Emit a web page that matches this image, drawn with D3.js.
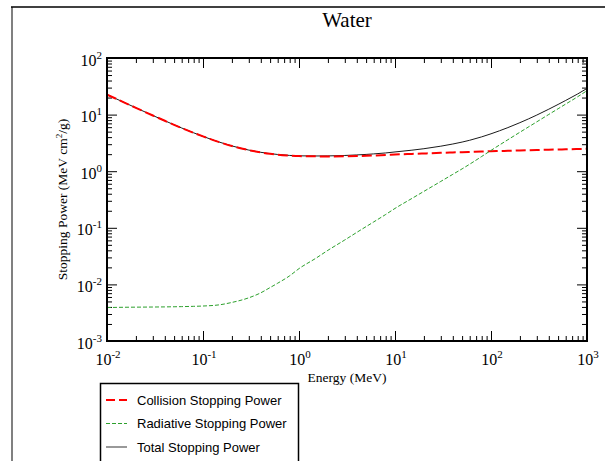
<!DOCTYPE html>
<html>
<head>
<meta charset="utf-8">
<script src="https://cdn.jsdelivr.net/npm/d3@7/dist/d3.min.js"></script>
<style>
  html, body { margin: 0; padding: 0; background: #fff; }
  svg { display: block; }
</style>
</head>
<body>
<svg id="chart" width="605" height="461"></svg>
<script>
// Electron stopping power in liquid water (MeV cm^2/g) versus kinetic energy (MeV)
const energy = [0.01, 0.015, 0.02, 0.03, 0.04, 0.05, 0.06, 0.08, 0.1, 0.15, 0.2, 0.3, 0.4, 0.5, 0.6, 0.8,
  1, 1.5, 2, 3, 4, 5, 6, 8, 10, 15, 20, 30, 40, 50, 60, 80, 100, 150, 200, 300, 400, 500, 600, 800, 1000];
const collision = [22.56, 16.47, 13.17, 9.653, 7.777, 6.603, 5.797, 4.757, 4.115, 3.238, 2.793, 2.355, 2.148, 2.034, 1.963, 1.886,
  1.849, 1.829, 1.822, 1.835, 1.855, 1.875, 1.895, 1.930, 1.968, 2.021, 2.057, 2.108, 2.143, 2.170, 2.191, 2.224, 2.249, 2.293, 2.323, 2.365, 2.395, 2.418, 2.437, 2.467, 2.489];
const radiative = [0.003898, 0.003944, 0.003963, 0.003984, 0.004005, 0.004026, 0.004049, 0.004097, 0.00415, 0.00437, 0.0048, 0.0058, 0.0071, 0.0088, 0.0105, 0.0142,
  0.0190, 0.0290, 0.0400, 0.061, 0.083, 0.105, 0.127, 0.172, 0.220, 0.330, 0.44, 0.66, 0.88, 1.10, 1.33, 1.82, 2.33, 3.60, 4.88, 7.45, 10.07, 12.7, 15.35, 20.7, 26.5];
const total = [22.56, 16.47, 13.17, 9.657, 7.781, 6.607, 5.801, 4.761, 4.119, 3.242, 2.798, 2.361, 2.155, 2.043, 1.974, 1.900,
  1.868, 1.858, 1.862, 1.896, 1.938, 1.980, 2.022, 2.102, 2.188, 2.351, 2.497, 2.768, 3.023, 3.270, 3.521, 4.044, 4.579, 5.893, 7.203, 9.815, 12.47, 15.12, 17.79, 23.17, 28.99];

const xTickExps = [-2, -1, 0, 1, 2, 3];
const yTickExps = [-3, -2, -1, 0, 1, 2];
const seriesNames = ["Collision Stopping Power", "Radiative Stopping Power", "Total Stopping Power"];

const svg = d3.select("#chart");
const plot = { left: 107, right: 587, top: 58, bottom: 341 };

const x = d3.scaleLog().domain([1e-2, 1e3]).range([plot.left, plot.right]);
const y = d3.scaleLog().domain([1e-3, 1e2]).range([plot.bottom, plot.top]);

// Page frame
svg.append("line").attr("x1", 12).attr("x2", 12).attr("y1", 7).attr("y2", 461)
  .attr("stroke", "#808080").attr("stroke-width", 2);
svg.append("line").attr("x1", 11).attr("x2", 605).attr("y1", 7).attr("y2", 7)
  .attr("stroke", "#000").attr("stroke-width", 1.5);

// Title
svg.append("text").attr("x", 347).attr("y", 27).attr("text-anchor", "middle")
  .attr("font-family", "Liberation Serif, Times New Roman, serif").attr("font-size", 21)
  .text("Water");

// Minor tick positions (2..9 x 10^n) inside each domain
function minorTicks(lo, hi) {
  const out = [];
  for (let e = lo; e < hi; e++) for (let m = 2; m <= 9; m++) out.push(m * Math.pow(10, e));
  return out;
}
const xMajor = xTickExps.map(e => Math.pow(10, e));
const yMajor = yTickExps.map(e => Math.pow(10, e));
const xMinor = minorTicks(-2, 3);
const yMinor = minorTicks(-3, 2);

function tickAxis(axisFn, scale, values, size, transform) {
  const g = svg.append("g").attr("transform", transform)
    .call(axisFn(scale).tickValues(values).tickSize(size).tickSizeOuter(0).tickFormat(""));
  g.select(".domain").remove();
  g.selectAll(".tick line").attr("stroke", "#000").attr("stroke-width", 1);
  return g;
}
// Inward ticks on all four sides
tickAxis(d3.axisBottom, x, xMajor, -10, `translate(0,${plot.bottom})`);
tickAxis(d3.axisBottom, x, xMinor, -5, `translate(0,${plot.bottom})`);
tickAxis(d3.axisTop, x, xMajor, -10, `translate(0,${plot.top})`);
tickAxis(d3.axisTop, x, xMinor, -5, `translate(0,${plot.top})`);
tickAxis(d3.axisLeft, y, yMajor, -10, `translate(${plot.left},0)`);
tickAxis(d3.axisLeft, y, yMinor, -5, `translate(${plot.left},0)`);
tickAxis(d3.axisRight, y, yMajor, -10, `translate(${plot.right},0)`);
tickAxis(d3.axisRight, y, yMinor, -5, `translate(${plot.right},0)`);

// Power-of-ten tick labels
const serif = "Liberation Serif, Times New Roman, serif";
function powLabel(sel, exp) {
  sel.append("tspan").text("10");
  sel.append("tspan").attr("font-size", 11).attr("dy", -7).text(String(exp));
}
svg.append("g").selectAll("text").data(xTickExps).join("text")
  .attr("x", d => x(Math.pow(10, d)) + 1).attr("y", 365)
  .attr("text-anchor", "middle").attr("font-family", serif).attr("font-size", 16)
  .each(function (d) { powLabel(d3.select(this), d); });
svg.append("g").selectAll("text").data(yTickExps).join("text")
  .attr("x", plot.left - 5).attr("y", d => y(Math.pow(10, d)) + 7.5)
  .attr("text-anchor", "end").attr("font-family", serif).attr("font-size", 16)
  .each(function (d) { powLabel(d3.select(this), d); });

// Axis titles
svg.append("text").attr("x", 347).attr("y", 382).attr("text-anchor", "middle")
  .attr("font-family", serif).attr("font-size", 13.5).text("Energy (MeV)");
const yTitle = svg.append("text")
  .attr("transform", `translate(67,${(plot.top + plot.bottom) / 2}) rotate(-90)`)
  .attr("text-anchor", "middle").attr("font-family", serif).attr("font-size", 13.5);
yTitle.append("tspan").text("Stopping Power (MeV cm");
yTitle.append("tspan").attr("font-size", 9).attr("dy", -5).text("2");
yTitle.append("tspan").attr("dy", 5).text("/g)");

// Curves
const line = d3.line().x(d => x(d[0])).y(d => y(d[1])).curve(d3.curveMonotoneX);
const styles = [
  { values: total, stroke: "#1a1a1a", width: 1, dash: null },
  { values: collision, stroke: "#ff0000", width: 2, dash: "10,4" },
  { values: radiative, stroke: "#2ca02c", width: 1, dash: "4,2" }
];
svg.append("clipPath").attr("id", "plotclip").append("rect")
  .attr("x", plot.left).attr("y", plot.top)
  .attr("width", plot.right - plot.left).attr("height", plot.bottom - plot.top);
const curves = svg.append("g").attr("clip-path", "url(#plotclip)");
styles.forEach(s => {
  curves.append("path").datum(energy.map((e, i) => [e, s.values[i]]))
    .attr("d", line).attr("fill", "none").attr("stroke", s.stroke)
    .attr("stroke-width", s.width).attr("stroke-dasharray", s.dash);
});

// Plot frame
svg.append("rect").attr("x", plot.left).attr("y", plot.top)
  .attr("width", plot.right - plot.left).attr("height", plot.bottom - plot.top)
  .attr("fill", "none").attr("stroke", "#000").attr("stroke-width", 2);

// Legend
const legend = svg.append("g");
legend.append("rect").attr("x", 100.5).attr("y", 383.5).attr("width", 198).attr("height", 90)
  .attr("fill", "#fff").attr("stroke", "#000").attr("stroke-width", 1.5);
const legendStyles = [
  { stroke: "#ff0000", width: 2, dash: "9,4" },
  { stroke: "#2ca02c", width: 1, dash: "4,2" },
  { stroke: "#555", width: 1.2, dash: null }
];
seriesNames.forEach((name, i) => {
  const cy = 400 + i * 23.5;
  legend.append("line").attr("x1", 106).attr("x2", 127).attr("y1", cy).attr("y2", cy)
    .attr("stroke", legendStyles[i].stroke).attr("stroke-width", legendStyles[i].width)
    .attr("stroke-dasharray", legendStyles[i].dash);
  legend.append("text").attr("x", 137).attr("y", cy + 4.5)
    .attr("font-family", "Liberation Sans, Arial, Helvetica, sans-serif").attr("font-size", 13)
    .text(name);
});
</script>
</body>
</html>
